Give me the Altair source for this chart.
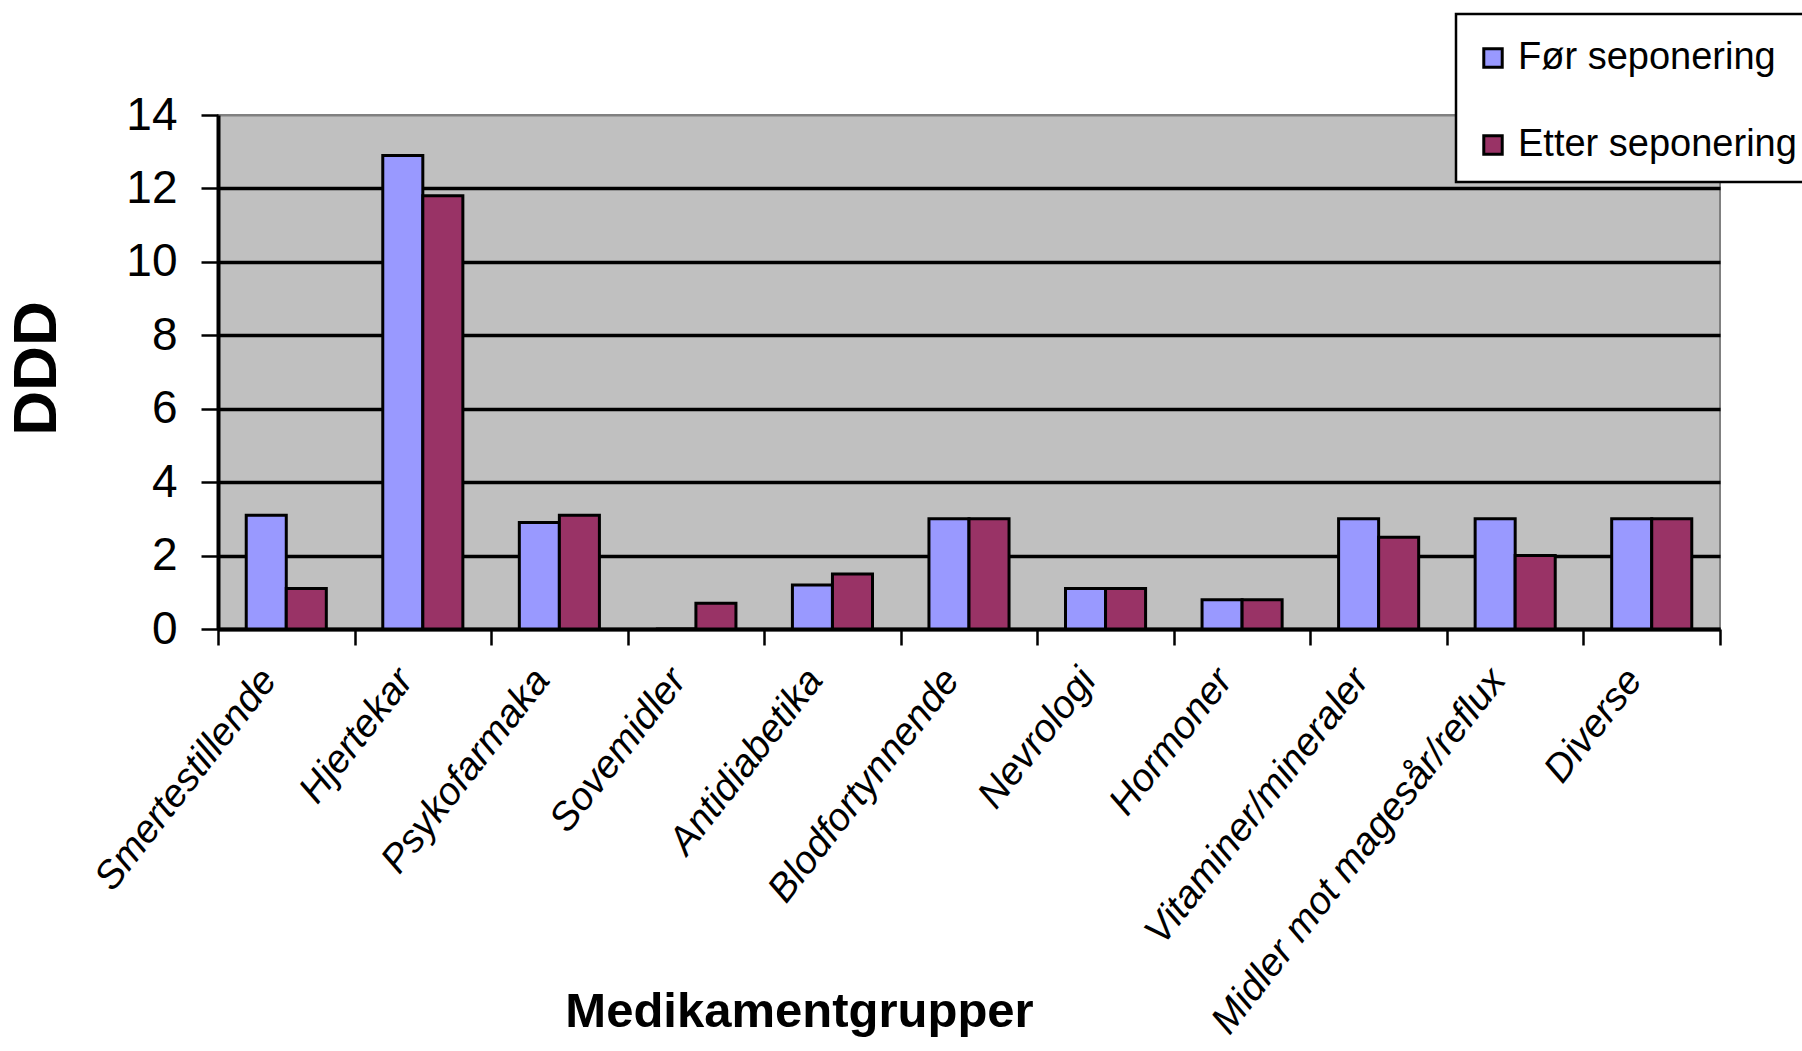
import altair as alt
import pandas as pd

# Medication groups and DDD before / after discontinuation
categories = [
    "Smertestillende", "Hjertekar", "Psykofarmaka", "Sovemidler",
    "Antidiabetika", "Blodfortynnende", "Nevrologi", "Hormoner",
    "Vitaminer/mineraler", "Midler mot magesår/reflux", "Diverse",
]
series = ["Før seponering", "Etter seponering"]
for_values = [3.1, 12.9, 2.9, 0.0, 1.2, 3.0, 1.1, 0.8, 3.0, 3.0, 3.0]
etter_values = [1.1, 11.8, 3.1, 0.7, 1.5, 3.0, 1.1, 0.8, 2.5, 2.0, 3.0]
colors = ["#9999FF", "#993366"]
y_ticks = [0, 2, 4, 6, 8, 10, 12, 14]

rows = []
for cat, a, b in zip(categories, for_values, etter_values):
    rows.append({"gruppe": cat, "serie": series[0], "ddd": a})
    rows.append({"gruppe": cat, "serie": series[1], "ddd": b})
df = pd.DataFrame(rows)

FONT = "Liberation Sans, Arial, sans-serif"

bars = alt.Chart(df).mark_bar(stroke="black", strokeWidth=3).encode(
    x=alt.X(
        "gruppe:N",
        sort=categories,
        scale=alt.Scale(paddingInner=0, paddingOuter=0),
        axis=alt.Axis(
            title="Medikamentgrupper",
            titleFont=FONT,
            titleFontSize=49,
            titleFontWeight="bold",
            titleColor="black",
            titleX=581,
            titleY=382,
            titleAlign="center",
            titleBaseline="middle",
            labelFont=FONT,
            labelFontSize=39,
            labelFontStyle="italic",
            labelColor="black",
            labelAngle=-52,
            labelAlign="right",
            labelBaseline="middle",
            labelPadding=28,
            labelOffset=-18,
            labelLimit=600,
            tickBand="extent",
            tickSize=16,
            tickWidth=2.5,
            tickColor="black",
            domainColor="black",
            domainWidth=4,
        ),
    ),
    xOffset=alt.XOffset(
        "serie:N", sort=series,
        scale=alt.Scale(paddingInner=0, paddingOuter=0.705),
    ),
    y=alt.Y(
        "ddd:Q",
        scale=alt.Scale(domain=[0, 14], nice=False),
        axis=alt.Axis(
            title="DDD",
            titleFont=FONT,
            titleFontSize=62,
            titleFontWeight="bold",
            titleColor="black",
            titleX=-182,
            titleY=253,
            titleAlign="center",
            titleBaseline="middle",
            values=y_ticks,
            labelFont=FONT,
            labelFontSize=46,
            labelColor="black",
            labelPadding=24,
            tickSize=17,
            tickWidth=2.5,
            tickColor="black",
            domainColor="black",
            domainWidth=4,
            grid=True,
            gridColor={"condition": {"test": "datum.value === 14", "value": "#808080"}, "value": "black"},
            gridWidth={"condition": {"test": "datum.value === 14", "value": 2}, "value": 3.5},
            gridOpacity=1,
        ),
    ),
    color=alt.Color(
        "serie:N",
        sort=series,
        scale=alt.Scale(domain=series, range=colors),
        legend=alt.Legend(
            title=" ",
            titleFontSize=2,
            titlePadding=5,
            orient="none",
            legendX=1238,
            legendY=-101,
            symbolType="square",
            symbolSize=340,
            symbolStrokeColor="black",
            symbolStrokeWidth=3,
            symbolOpacity=1,
            labelFont=FONT,
            labelFontSize=38,
            labelColor="black",
            labelOffset=6,
            labelLimit=800,
            rowPadding=49,
            padding=18,
            strokeColor="black",
            fillColor="white",
        ),
    ),
)

chart = bars.properties(
    width=1502,
    height=514,
    autosize=alt.AutoSizeParams(type="none"),
    padding={"left": 218, "top": 115, "right": 82, "bottom": 422},
).configure_view(
    fill="#C0C0C0",
    stroke="#808080",
    strokeWidth=2,
).configure_legend(
    strokeWidth=2.5,
)

chart.save("out.html", embed_options={"renderer": "svg", "actions": False})
